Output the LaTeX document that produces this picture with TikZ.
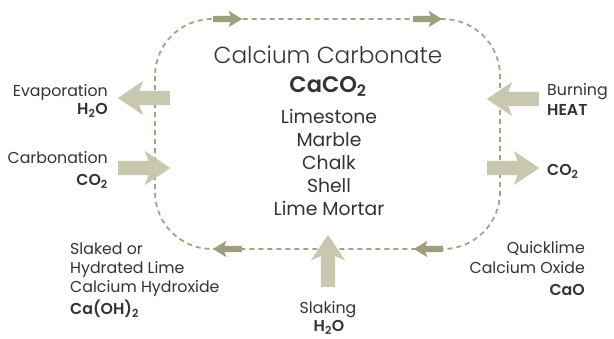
\documentclass[tikz,border=0pt]{standalone}
\usepackage{fontspec}
\setmainfont{Poppins}[BoldFont={Poppins SemiBold}]
\newfontfamily\lightfont{Poppins Light}
\usetikzlibrary{shapes.arrows}

\definecolor{inkgray}{HTML}{333333}
\definecolor{loopolive}{HTML}{A3A385}
\definecolor{tipolive}{HTML}{9F9F7D}
\definecolor{bigkhaki}{HTML}{C8C8B0}

\begin{document}
\begin{tikzpicture}[x=1pt, y=-1pt,
    txt/.style={font=\fontsize{15.8}{18}\selectfont, text=inkgray, inner sep=0pt},
    chem/.style={txt, font=\fontsize{15.8}{18}\selectfont\bfseries},
    kind/.style={txt, font=\fontsize{18.8}{21}\selectfont, anchor=base},
    bigarrow/.style={single arrow, fill=bigkhaki, draw=none, minimum height=52pt,
        inner xsep=0pt, inner ysep=7pt, single arrow head extend=10pt,
        single arrow tip angle=68, single arrow head indent=4pt},
    tiparrow/.style={single arrow, fill=tipolive, draw=none, minimum height=29pt,
        inner xsep=0pt, inner ysep=3pt, single arrow head extend=5pt,
        single arrow tip angle=62, single arrow head indent=2pt},
    cycleline/.style={loopolive, line width=1.8pt, dash pattern=on 5pt off 4pt, rounded corners=57pt}
]
\useasboundingbox (0,0) rectangle (614,338);

% The cycle
\coordinate (nw) at (155,19);
\coordinate (se) at (500,249);
\draw[cycleline] (nw) rectangle (se);
\node[tiparrow, anchor=tail] (topA) at (213,19) {};
\node[tiparrow, anchor=tail] (topB) at (413,19) {};
\node[tiparrow, rotate=180, anchor=tail] (botA) at (242,249) {};
\node[tiparrow, rotate=180, anchor=tail] (botB) at (443,249) {};

% Centre: calcium carbonate
\node[txt, font=\lightfont\fontsize{23.2}{26}\selectfont, anchor=base] (title) at (328,63) {Calcium Carbonate};
\node[chem, font=\fontsize{22.5}{25}\selectfont\bfseries, anchor=base] (formula) at (328,92) {CaCO\textsubscript{2}};
\node[kind] (kind1) at (329,123) {Limestone};
\node[kind] (kind2) at (329,146) {Marble};
\node[kind] (kind3) at (329,169) {Chalk};
\node[kind] (kind4) at (329,192) {Shell};
\node[kind] (kind5) at (329,215) {Lime Mortar};

% Left side
\node[bigarrow, rotate=180, anchor=tail] (evapArrow) at (170,98) {};
\node[txt, anchor=base east] (evap) at (108,96) {Evaporation};
\node[chem, anchor=base east] (evapH2O) at (108,114) {H\textsubscript{2}O};
\node[bigarrow, anchor=tail] (carbArrow) at (118,168) {};
\node[txt, anchor=base east] (carb) at (108,163) {Carbonation};
\node[chem, anchor=base east] (carbCO2) at (108,185) {CO\textsubscript{2}};

% Right side
\node[bigarrow, rotate=180, anchor=tail] (burnArrow) at (539,99) {};
\node[txt, anchor=base west] (burn) at (547,95) {Burning};
\node[chem, anchor=base west] (heat) at (547,115) {HEAT};
\node[bigarrow, anchor=tail] (outArrow) at (487,168) {};
\node[chem, anchor=base west] (outCO2) at (547,175) {CO\textsubscript{2}};

% Bottom: slaking
\node[bigarrow, rotate=90, anchor=tail] (slakeArrow) at (328,287) {};
\node[txt, anchor=base] (slake) at (328,313) {Slaking};
\node[chem, anchor=base] (slakeH2O) at (329,331) {H\textsubscript{2}O};

% Bottom left: hydrated lime
\node[txt, anchor=base west] (hyd1) at (70,254) {Slaked or};
\node[txt, anchor=base west] (hyd2) at (70,273) {Hydrated Lime};
\node[txt, anchor=base west] (hyd3) at (70,292) {Calcium Hydroxide};
\node[chem, anchor=base west] (hydF) at (70,314) {Ca(OH)\textsubscript{2}};

% Bottom right: quicklime
\node[txt, anchor=base east] (quick1) at (585,253) {Quicklime};
\node[txt, anchor=base east] (quick2) at (585,273) {Calcium Oxide};
\node[chem, anchor=base east] (quickF) at (585,295) {CaO};

\end{tikzpicture}
\end{document}
